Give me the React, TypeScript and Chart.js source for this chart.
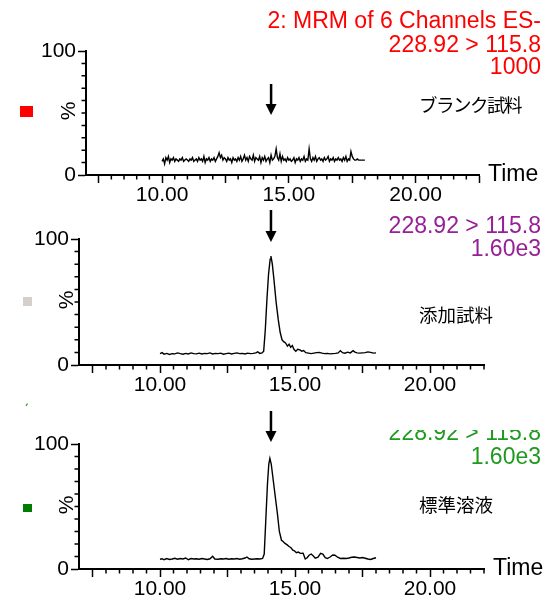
import React, { useEffect, useRef } from "react";
import { Chart, registerables } from "chart.js";

Chart.register(...registerables);

const SANS = "'Liberation Sans', Arial, Helvetica, sans-serif";
const CJK = "'Noto Sans CJK JP', 'Noto Sans CJK SC', sans-serif";

// ---------- axes ----------
const X_TICKS = [
  7.5, 8, 8.5, 9, 9.5, 10, 10.5, 11, 11.5, 12, 12.5, 13, 13.5, 14, 14.5, 15,
  15.5, 16, 16.5, 17, 17.5, 18, 18.5, 19, 19.5, 20, 20.5, 21, 21.5, 22, 22.5,
];
const X_LABEL_VALUES = [10, 15, 20];
const X_LABELS = ["10.00", "15.00", "20.00"];
const Y_TICKS = [0, 10, 20, 30, 40, 50, 60, 70, 80, 90, 100];
const Y_LABEL_VALUES = [0, 100];
const Y_LABELS = ["0", "100"];

// ---------- panel 1 : blank sample ----------
const BLANK_TIME = [
  10.0, 10.05, 10.1, 10.15, 10.2, 10.25, 10.3, 10.35, 10.4, 10.45, 10.5, 10.55, 10.6, 10.65, 10.7, 10.75, 10.8, 10.85, 10.9, 10.95,
  11.0, 11.05, 11.1, 11.15, 11.2, 11.25, 11.3, 11.35, 11.4, 11.45, 11.5, 11.55, 11.6, 11.65, 11.7, 11.75, 11.8, 11.85, 11.9, 11.95,
  12.0, 12.05, 12.1, 12.15, 12.2, 12.25, 12.3, 12.35, 12.4, 12.45, 12.5, 12.55, 12.6, 12.65, 12.7, 12.75, 12.8, 12.85, 12.9, 12.95,
  13.0, 13.05, 13.1, 13.15, 13.2, 13.25, 13.3, 13.35, 13.4, 13.45, 13.5, 13.55, 13.6, 13.65, 13.7, 13.75, 13.8, 13.85, 13.9, 13.95,
  14.0, 14.05, 14.1, 14.15, 14.2, 14.25, 14.3, 14.35, 14.4, 14.45, 14.5, 14.55, 14.6, 14.65, 14.7, 14.75, 14.8, 14.85, 14.9, 14.95,
  15.0, 15.05, 15.1, 15.15, 15.2, 15.25, 15.3, 15.35, 15.4, 15.45, 15.5, 15.55, 15.6, 15.65, 15.7, 15.75, 15.8, 15.85, 15.9, 15.95,
  16.0, 16.05, 16.1, 16.15, 16.2, 16.25, 16.3, 16.35, 16.4, 16.45, 16.5, 16.55, 16.6, 16.65, 16.7, 16.75, 16.8, 16.85, 16.9, 16.95,
  17.0, 17.05, 17.1, 17.15, 17.2, 17.25, 17.3, 17.35, 17.4, 17.45, 17.5, 17.55, 17.6, 17.65, 17.7, 17.75, 17.8, 17.85, 17.9, 17.95, 18.0,
];
const BLANK_PCT = [
  11, 13, 9, 14, 12, 15, 10, 13, 12, 14, 11, 13, 12, 11, 13, 12, 14, 11, 12, 13,
  12, 11, 13, 12, 14, 11, 12, 13, 11, 14, 12, 13, 11, 15, 10, 13, 12, 14, 11, 13,
  12, 14, 11, 13, 15, 18, 14, 16, 12, 14, 13, 11, 14, 12, 13, 10, 14, 12, 13, 11,
  14, 12, 15, 11, 13, 16, 12, 14, 11, 15, 13, 12, 16, 11, 14, 13, 12, 15, 10, 14,
  12, 15, 11, 13, 14, 10, 16, 12, 13, 15, 21, 14, 12, 17, 11, 15, 12, 13, 11, 14,
  12, 13, 11, 12, 14, 10, 13, 12, 14, 11, 13, 12, 15, 11, 13, 12, 21, 13, 11, 14,
  12, 15, 11, 13, 14, 12, 13, 11, 14, 12, 13, 15, 11, 13, 12, 14, 11, 13, 12, 14,
  12, 13, 11, 14, 12, 15, 11, 13, 12, 19, 15, 13, 12, 12, 13, 12, 12, 12, 12, 12, 12,
];

// ---------- panel 2 : spiked sample ----------
const SPIKED_TIME = [
  10.0, 10.08, 10.15, 10.25, 10.35, 10.45, 10.55, 10.65, 10.75, 10.85, 10.95, 11.05, 11.15, 11.25, 11.35,
  11.45, 11.55, 11.65, 11.75, 11.85, 11.95, 12.05, 12.15, 12.25, 12.35, 12.45, 12.55, 12.65, 12.75, 12.85,
  12.95, 13.05, 13.15, 13.25, 13.35, 13.45, 13.55, 13.62, 13.7, 13.78, 13.84, 13.9, 13.96, 14.02, 14.08,
  14.11, 14.16, 14.22, 14.3, 14.38, 14.45, 14.52, 14.58, 14.65, 14.72, 14.78, 14.84, 14.9, 14.96, 15.03,
  15.1, 15.18, 15.25, 15.32, 15.4, 15.5, 15.6, 15.7, 15.8, 15.9, 16.0, 16.1, 16.2, 16.3, 16.4,
  16.5, 16.6, 16.68, 16.76, 16.85, 16.95, 17.05, 17.15, 17.22, 17.3, 17.4, 17.5, 17.6, 17.7, 17.8, 17.9, 18.0,
];
const SPIKED_PCT = [
  9.0, 9.8, 8.6, 9.2, 8.4, 9.0, 8.8, 9.6, 9.0, 8.6, 9.2, 8.8, 9.6, 9.0, 8.8,
  9.4, 8.8, 9.2, 9.0, 9.6, 8.8, 9.2, 9.0, 9.4, 8.6, 9.0, 9.4, 8.8, 9.2, 9.6,
  9.0, 9.2, 8.8, 9.4, 9.0, 9.2, 9.6, 10.4, 9.2, 9.6, 11, 28, 52, 72, 84,
  86.5, 80, 68, 50, 36, 26, 20, 18.5, 17.5, 15, 16.5, 14, 15.5, 12.5, 11,
  12.5, 12, 11, 11.5, 9.8, 9.4, 9.0, 9.4, 9.8, 10, 9.4, 9.0, 9.2, 8.8, 9.0,
  9.2, 9.6, 11.4, 9.8, 9.4, 10.2, 9.6, 11.4, 10.2, 9.6, 9.4, 9.6, 9.8, 10.4, 10.0, 9.4, 9.6,
];

// ---------- panel 3 : standard solution ----------
const STD_TIME = [
  10.0, 10.08, 10.15, 10.25, 10.35, 10.45, 10.55, 10.65, 10.75, 10.85, 10.95, 11.05, 11.15, 11.25, 11.35,
  11.45, 11.55, 11.65, 11.75, 11.85, 11.95, 12.03, 12.15, 12.25, 12.35, 12.45, 12.55, 12.65, 12.75, 12.85,
  12.95, 13.05, 13.15, 13.22, 13.3, 13.4, 13.5, 13.6, 13.7, 13.8, 13.86, 13.92, 13.98, 14.03, 14.07,
  14.12, 14.2, 14.28, 14.35, 14.42, 14.5, 14.56, 14.63, 14.7, 14.78, 14.85, 14.92, 14.98, 15.05, 15.12,
  15.2, 15.3, 15.38, 15.45, 15.52, 15.6, 15.68, 15.75, 15.85, 15.95, 16.03, 16.12, 16.2, 16.3, 16.4,
  16.48, 16.58, 16.68, 16.8, 16.9, 17.0, 17.1, 17.2, 17.3, 17.4, 17.5, 17.6, 17.7, 17.8, 17.9, 18.0,
];
const STD_PCT = [
  7.8, 8.2, 7.4, 8.4, 7.6, 8.0, 8.6, 7.8, 8.4, 8.0, 8.8, 7.4, 8.4, 8.0, 8.2,
  7.8, 8.4, 8.0, 7.6, 8.2, 10.2, 8.0, 7.8, 8.2, 8.0, 8.4, 7.8, 8.2, 8.0, 8.4,
  7.8, 8.2, 8.8, 9.6, 8.2, 7.8, 8.0, 8.2, 8.0, 8.4, 12, 40, 68, 84, 88.5,
  84, 70, 56, 44, 30, 23, 22, 20.5, 19.5, 18, 17, 15, 14.5, 13, 13.5,
  12.5, 12.6, 8.0, 9.0, 11, 12, 10.4, 8.6, 9.4, 12.6, 12, 9, 8.4, 9.6, 11.2,
  11, 9.4, 8.4, 8.6, 8.4, 8.8, 9.4, 9.6, 9.2, 8.8, 9.2, 8.6, 8.0, 7.6, 8.4, 9.0,
];

// ---------- annotations text ----------
const HEADER_1 = ["2: MRM of 6 Channels ES-", "228.92 > 115.8", "1000"];
const HEADER_2 = ["228.92 > 115.8", "1.60e3"];
const HEADER_3 = ["228.92 > 115.8", "1.60e3"];
const SAMPLE_LABELS = ["ブランク試料", "添加試料", "標準溶液"];
const ARROW_TIMES = [14.3, 14.11, 14.11];
const Y_TITLE = "%";
const X_TITLE = "Time";

const W = 551;
const Y_W = 62;
const X_H = 28;

type Spec = {
  top: number;
  height: number;
  area: { left: number; right: number; top: number; bottom: number };
  xMax: number;
  times: number[];
  values: number[];
  header: string[];
  headerColor: string;
  headerY: number[];
  headerClipTop?: number;
  label: string;
  labelPos: [number, number];
  labelSpacing: number;
  square: [number, number, number, number, string];
  arrowT: number;
  arrowTop: number;
  arrowBottom: number;
  pctPos: [number, number];
  showTime: boolean;
  mark?: boolean;
};

const SPECS: Spec[] = [
  {
    top: 0, height: 210,
    area: { left: 86, right: 479, top: 51, bottom: 175 },
    xMax: 22.5, times: BLANK_TIME, values: BLANK_PCT,
    header: HEADER_1, headerColor: "#ff0000", headerY: [22, 46, 68],
    label: SAMPLE_LABELS[0], labelPos: [419, 105], labelSpacing: -1.5,
    square: [20, 106, 13, 11, "#ff0000"],
    arrowT: ARROW_TIMES[0], arrowTop: 84, arrowBottom: 115,
    pctPos: [69, 111], showTime: true,
  },
  {
    top: 200, height: 210,
    area: { left: 79, right: 484, top: 39, bottom: 165 },
    xMax: 22, times: SPIKED_TIME, values: SPIKED_PCT,
    header: HEADER_2, headerColor: "#962096", headerY: [27, 50],
    label: SAMPLE_LABELS[1], labelPos: [419, 115], labelSpacing: 0,
    square: [23, 97, 9, 9, "#d6cec9"],
    arrowT: ARROW_TIMES[1], arrowTop: 10, arrowBottom: 42,
    pctPos: [67, 100], showTime: false,
  },
  {
    top: 397, height: 200,
    area: { left: 79, right: 484, top: 47, bottom: 172 },
    xMax: 22, times: STD_TIME, values: STD_PCT,
    header: HEADER_3, headerColor: "#1f9a1f", headerY: [37, 61], headerClipTop: 33,
    label: SAMPLE_LABELS[2], labelPos: [419, 108], labelSpacing: 0,
    square: [23, 107, 9, 8, "#007d00"],
    arrowT: ARROW_TIMES[2], arrowTop: 14, arrowBottom: 45,
    pctPos: [67, 108], showTime: true, mark: true,
  },
];

const isMajorX = (v: number) => Math.abs(v / 2.5 - Math.round(v / 2.5)) < 1e-6;
const isMajorY = (v: number) => Y_LABEL_VALUES.includes(v);

function makeDecor(spec: Spec) {
  return {
    id: "decor",
    afterDraw(chart: any) {
      const ctx = chart.ctx as CanvasRenderingContext2D;
      const xs = chart.scales.x;
      const ys = chart.scales.y;
      const axisY = ys.getPixelForValue(0);
      const axisX = xs.left;
      ctx.save();
      // minor ticks
      ctx.strokeStyle = "#000";
      ctx.lineWidth = 1.5;
      ctx.beginPath();
      X_TICKS.filter((v) => v <= spec.xMax && !isMajorX(v)).forEach((v) => {
        const px = xs.getPixelForValue(v);
        ctx.moveTo(px, axisY);
        ctx.lineTo(px, axisY + 4.5);
      });
      Y_TICKS.filter((v) => !isMajorY(v)).forEach((v) => {
        const py = ys.getPixelForValue(v);
        ctx.moveTo(axisX, py);
        ctx.lineTo(axisX - 4.5, py);
      });
      ctx.stroke();

      // header text
      ctx.fillStyle = spec.headerColor;
      ctx.font = `23px ${SANS}`;
      ctx.textAlign = "right";
      ctx.textBaseline = "middle";
      spec.header.forEach((line, i) => {
        ctx.save();
        if (i === 0 && spec.headerClipTop !== undefined) {
          ctx.beginPath();
          ctx.rect(0, spec.headerClipTop, W, 200);
          ctx.clip();
        }
        ctx.fillText(line, 541, spec.headerY[i]);
        ctx.restore();
      });

      // sample label
      ctx.save();
      ctx.fillStyle = "#000";
      ctx.font = `18.5px ${CJK}`;
      ctx.textAlign = "left";
      (ctx as any).letterSpacing = `${spec.labelSpacing}px`;
      ctx.fillText(spec.label, spec.labelPos[0], spec.labelPos[1]);
      ctx.restore();

      // colour square
      const [sx, sy, sw, sh, sc] = spec.square;
      ctx.fillStyle = sc;
      ctx.fillRect(sx, sy, sw, sh);

      // % title
      ctx.fillStyle = "#000";
      ctx.font = `21px ${SANS}`;
      ctx.save();
      ctx.translate(spec.pctPos[0], spec.pctPos[1]);
      ctx.rotate(-Math.PI / 2);
      ctx.textAlign = "center";
      ctx.textBaseline = "middle";
      ctx.fillText(Y_TITLE, 0, 0);
      ctx.restore();

      // Time title
      if (spec.showTime) {
        ctx.font = `23px ${SANS}`;
        ctx.textAlign = "left";
        ctx.textBaseline = "middle";
        ctx.fillText(X_TITLE, xs.right + 9, axisY);
      }

      // arrow
      const ax = xs.getPixelForValue(spec.arrowT);
      const headH = 11;
      const headW = 11;
      ctx.strokeStyle = "#000";
      ctx.lineWidth = 2.5;
      ctx.beginPath();
      ctx.moveTo(ax, spec.arrowTop);
      ctx.lineTo(ax, spec.arrowBottom - headH + 1);
      ctx.stroke();
      ctx.fillStyle = "#000";
      ctx.beginPath();
      ctx.moveTo(ax - headW / 2, spec.arrowBottom - headH);
      ctx.lineTo(ax + headW / 2, spec.arrowBottom - headH);
      ctx.lineTo(ax, spec.arrowBottom);
      ctx.closePath();
      ctx.fill();

      if (spec.mark) {
        ctx.strokeStyle = "#1f9a1f";
        ctx.lineWidth = 1.2;
        ctx.beginPath();
        ctx.moveTo(26, 9);
        ctx.lineTo(27.5, 6.5);
        ctx.stroke();
      }
      ctx.restore();
    },
  };
}

function Panel({ spec }: { spec: Spec }) {
  const ref = useRef<HTMLCanvasElement | null>(null);
  useEffect(() => {
    if (!ref.current) return;
    const a = spec.area;
    const chart = new Chart(ref.current, {
      type: "line",
      data: {
        datasets: [
          {
            data: spec.times.map((t, i) => ({ x: t, y: spec.values[i] })),
            borderColor: "#000",
            borderWidth: 1.4,
            pointRadius: 0,
            tension: 0,
            fill: false,
          },
        ],
      },
      options: {
        animation: false,
        responsive: false,
        maintainAspectRatio: false,
        events: [],
        layout: {
          padding: {
            left: a.left - Y_W,
            top: a.top,
            right: W - a.right,
            bottom: spec.height - a.bottom - X_H,
          },
        },
        plugins: {
          legend: { display: false },
          tooltip: { enabled: false },
          title: { display: false },
        },
        scales: {
          x: {
            type: "linear",
            min: 7,
            max: spec.xMax,
            afterBuildTicks: (s: any) => {
              s.ticks = X_TICKS.filter((v) => v <= spec.xMax).map((v) => ({ value: v }));
            },
            afterFit: (s: any) => {
              s.height = X_H;
            },
            ticks: {
              autoSkip: false,
              maxRotation: 0,
              minRotation: 0,
              padding: 0,
              color: "#000",
              font: { family: SANS, size: 21 },
              callback: (v: any) => {
                const i = X_LABEL_VALUES.indexOf(Number(v));
                return i >= 0 ? X_LABELS[i] : "";
              },
            },
            grid: {
              drawOnChartArea: false,
              drawTicks: true,
              tickLength: 8,
              tickWidth: 1.5,
              tickColor: (c: any) => (c.tick && isMajorX(c.tick.value) ? "#000" : "rgba(0,0,0,0)"),
            },
            border: { display: true, color: "#000", width: 2 },
          },
          y: {
            min: 0,
            max: 100,
            afterBuildTicks: (s: any) => {
              s.ticks = Y_TICKS.map((v) => ({ value: v }));
            },
            afterFit: (s: any) => {
              s.width = Y_W;
            },
            ticks: {
              autoSkip: false,
              padding: 2,
              color: "#000",
              font: { family: SANS, size: 21 },
              callback: (v: any) => {
                const i = Y_LABEL_VALUES.indexOf(Number(v));
                return i >= 0 ? Y_LABELS[i] : "";
              },
            },
            grid: {
              drawOnChartArea: false,
              drawTicks: true,
              tickLength: 8,
              tickWidth: 1.5,
              tickColor: (c: any) => (c.tick && isMajorY(c.tick.value) ? "#000" : "rgba(0,0,0,0)"),
            },
            border: { display: true, color: "#000", width: 2 },
          },
        },
      },
      plugins: [makeDecor(spec)],
    } as any);
    return () => chart.destroy();
  }, [spec]);
  return (
    <canvas
      ref={ref}
      width={W}
      height={spec.height}
      style={{ position: "absolute", left: 0, top: spec.top, width: W, height: spec.height }}
    />
  );
}

export default function App() {
  return (
    <div style={{ position: "absolute", left: 0, top: 0, width: W, height: 597, background: "#fff", overflow: "hidden" }}>
      {SPECS.map((s, i) => (
        <Panel key={i} spec={s} />
      ))}
    </div>
  );
}
